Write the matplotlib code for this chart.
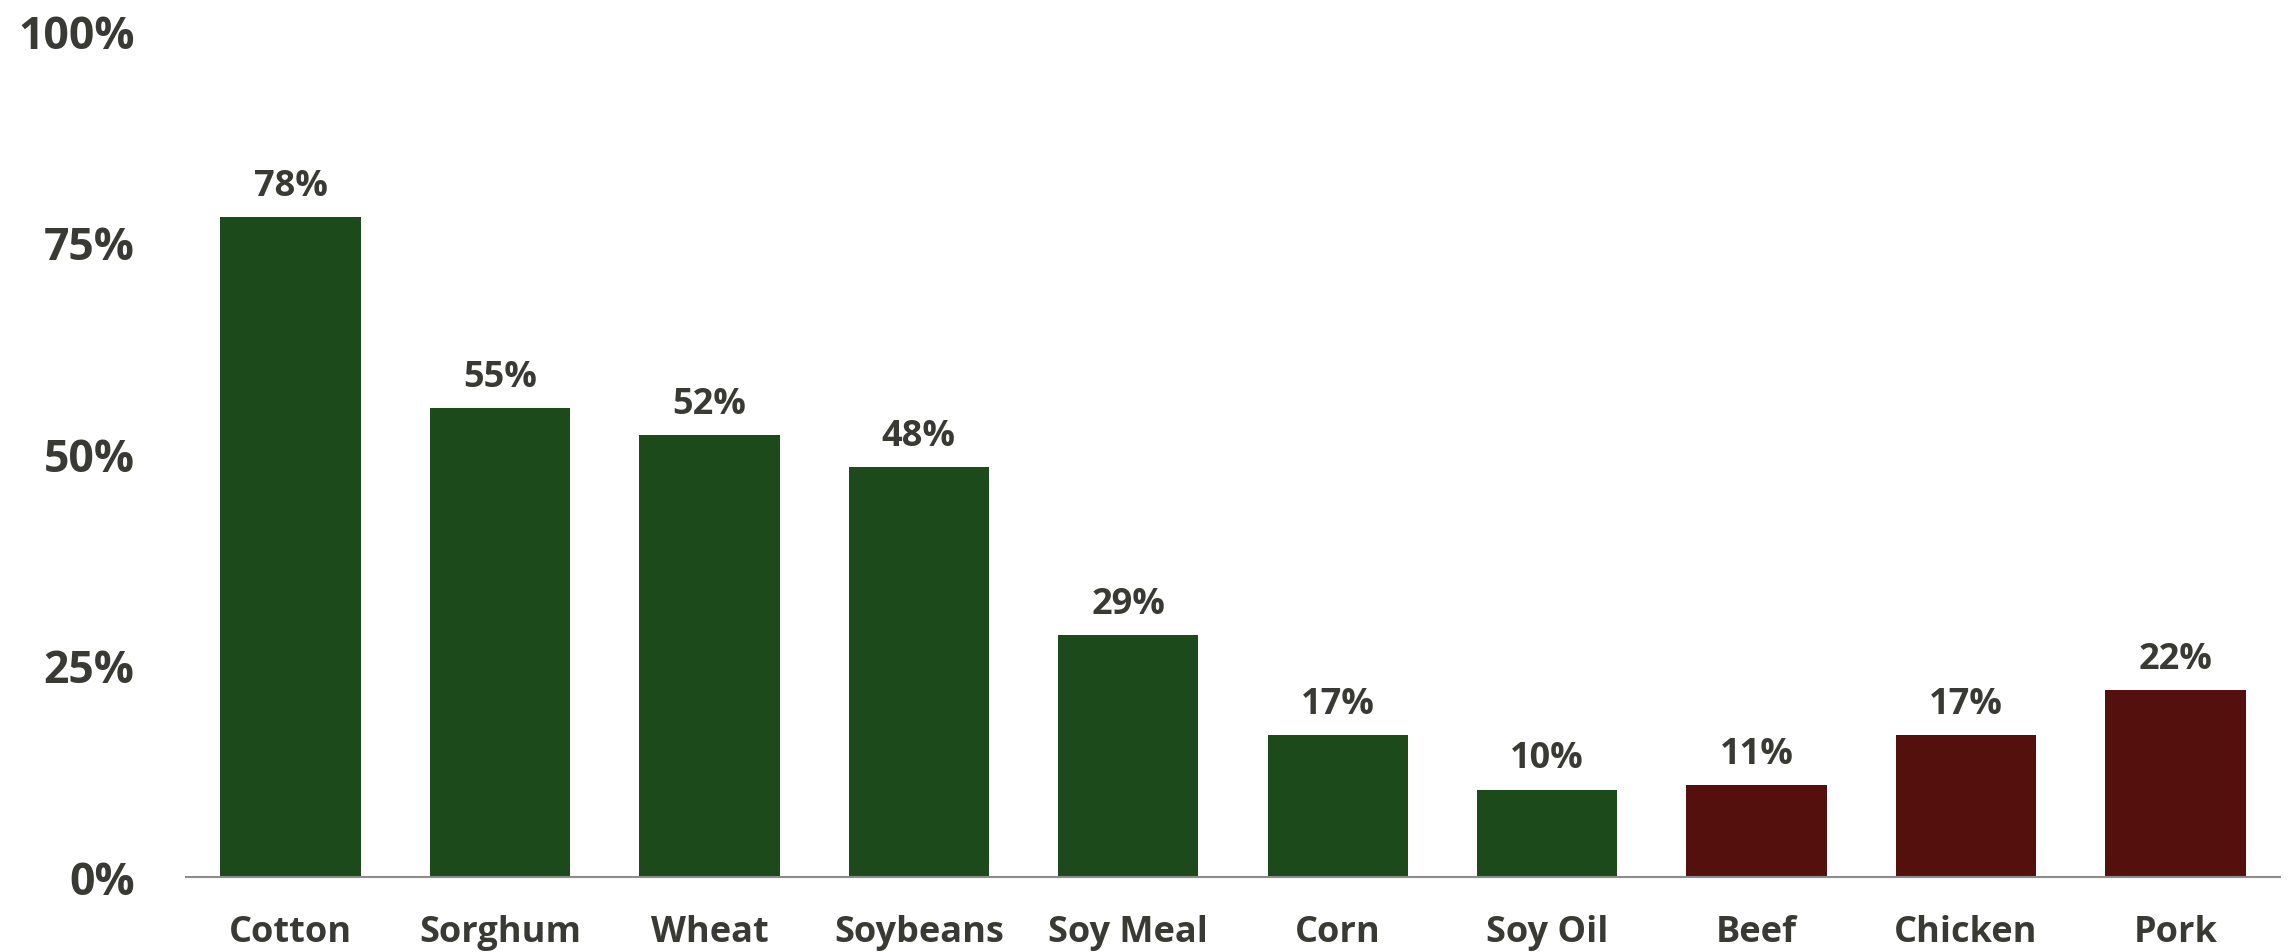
import matplotlib
matplotlib.use("Agg")
import matplotlib.pyplot as plt
from matplotlib.ticker import FuncFormatter

categories = ["Cotton", "Sorghum", "Wheat", "Soybeans", "Soy Meal", "Corn", "Soy Oil", "Beef", "Chicken", "Pork"]
values = [78.0, 55.4, 52.2, 48.4, 28.6, 16.7, 10.3, 10.8, 16.7, 22.1]
groups = ["crop"] * 7 + ["meat"] * 3
yticks = [0, 25, 50, 75, 100]

colors = {"crop": "#1C4A1A", "meat": "#54100C"}
text_color = "#3A3A35"

plt.rcParams['font.family'] = ['Open Sans', 'DejaVu Sans']
plt.rcParams['font.weight'] = 'bold'

fig = plt.figure(figsize=(22.95, 9.53), dpi=100)
ax = fig.add_axes([0.0810, 0.0790, 0.9125, 0.8875])

x = range(len(categories))
bars = ax.bar(x, values, width=0.67, color=[colors[g] for g in groups])

for xi, v in zip(x, values):
    ax.annotate(f"{v:.0f}%", (xi, v), xytext=(0, 16), textcoords="offset points",
                ha="center", va="baseline", fontsize=26, fontweight="bold", color=text_color)

ax.set_xlim(-0.5, len(categories) - 0.5)
ax.set_ylim(0, 100)
ax.set_yticks(yticks)
ax.yaxis.set_major_formatter(FuncFormatter(lambda v, p: f"{v:.0f}%"))
ax.set_xticks(list(x))
ax.set_xticklabels(categories)

ax.tick_params(axis="y", length=0, pad=37, labelsize=32, labelcolor=text_color)
ax.tick_params(axis="x", length=0, pad=27, labelsize=26, labelcolor=text_color)
for lbl in ax.get_xticklabels() + ax.get_yticklabels():
    lbl.set_fontweight("bold")

for s in ["top", "right", "left"]:
    ax.spines[s].set_visible(False)
ax.spines["bottom"].set_color("#8C8C8C")
ax.spines["bottom"].set_linewidth(1.5)

fig.savefig("out.png", dpi=100)
